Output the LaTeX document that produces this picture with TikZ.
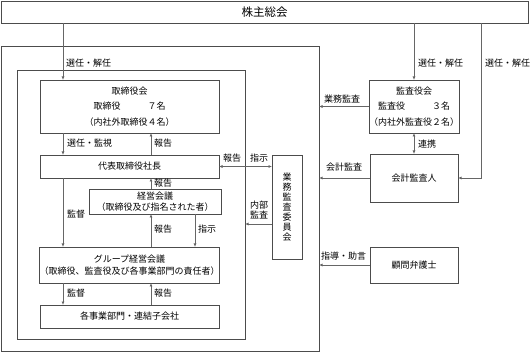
\documentclass[tikz,border=0pt]{standalone}
\usepackage{fontspec}
\setmainfont{Noto Sans CJK JP}
\usetikzlibrary{arrows.meta,positioning}

\begin{document}
\begin{tikzpicture}[x=1pt, y=-1pt, font=\fontsize{9}{11}\selectfont,
      box/.style={draw=black!70, line width=0.8pt, inner sep=0pt, outer sep=0pt, align=center},
      wire/.style={draw=black!60, line width=0.8pt},
      arr/.style={wire, -{Latex[length=3.5pt, width=3pt]}},
      both/.style={wire, {Latex[length=3.5pt, width=3pt]}-{Latex[length=3.5pt, width=3pt]}},
      lbl/.style={anchor=west, inner sep=0pt}]
    \useasboundingbox (0,0) rectangle (532,352);
    % guides for the vertical lines
    \coordinate (xl) at (63,0);
    \coordinate (xm) at (151,0);
    \coordinate (xr) at (195,0);
    \coordinate (xk) at (481,0);
    % frames
    \node[box, minimum width=527, minimum height=22,
      font=\fontsize{11.5}{13}\selectfont] (soukai) at (264.5,12) {株主総会};
    \node[box, minimum width=318, minimum height=305] (outer) at (160,198.5) {};
    \node[box, minimum width=228, minimum height=269] (inner) at (131,204.5) {};
    % left column
    \node[box, minimum width=179, minimum height=53,
      font=\fontsize{9}{15.5}\selectfont] (torishimari) at (129.5,106.5)
      {取締役会\\取締役　　　７名\\（内社外取締役４名）};
    \node[box, minimum width=179, minimum height=23] (shacho) at (129.5,166.5) {代表取締役社長};
    \node[box, minimum width=132, minimum height=25,
      font=\fontsize{9}{11.5}\selectfont] (keiei) at (155,201.5)
      {経営会議\\（取締役及び指名された者）};
    \node[box, minimum width=179, minimum height=36,
      font=\fontsize{9}{12}\selectfont] (group) at (129.5,265)
      {グループ経営会議\\（取締役、監査役及び各事業部門の責任者）};
    \node[box, minimum width=179, minimum height=23] (jigyo) at (129.5,316.5) {各事業部門・連結子会社};
    \node[box, minimum width=30, minimum height=104,
      font=\fontsize{9}{10}\selectfont] (gyomu) at (287,207)
      {業\\務\\監\\査\\委\\員\\会};
    % right column
    \node[box, minimum width=88, minimum height=53,
      font=\fontsize{9}{15.5}\selectfont] (kansayaku) at (414,106.5)
      {監査役会\\監査役　　　３名\\（内社外監査役２名）};
    \node[box, minimum width=88, minimum height=48] (kaikei) at (414,178) {会計監査人};
    \node[box, minimum width=88, minimum height=36] (komon) at (414,265) {顧問弁護士};

    % connectors, left column
    \draw[arr] (soukai.south -| xl) -- (torishimari.north -| xl);
    \draw[arr] (torishimari.south -| xl) -- (shacho.north -| xl);
    \draw[arr] (shacho.north -| xm) -- (torishimari.south -| xm);
    \draw[arr] (keiei.north -| xm) -- (shacho.south -| xm);
    \draw[arr] (shacho.south -| xl) -- (group.north -| xl);
    \draw[arr] (group.north -| xm) -- (keiei.south -| xm);
    \draw[arr] (keiei.south -| xr) -- (group.north -| xr);
    \draw[arr] (group.south -| xl) -- (jigyo.north -| xl);
    \draw[arr] (jigyo.north -| xm) -- (group.south -| xm);
    \draw[both] (shacho.east) -- (shacho.east -| gyomu.west);
    \draw[arr] (gyomu.west |- 0,224) -- (inner.east |- 0,224);
    % connectors, right column
    \draw[arr] (soukai.south -| kansayaku.north) -- (kansayaku.north);
    \draw[arr] (soukai.south -| xk) |- (kaikei.east);
    \draw[both] (kansayaku.south) -- (kaikei.north);
    \draw[arr] (kansayaku.west) -- (kansayaku.west -| outer.east);
    \draw[arr] (kaikei.west) -- (kaikei.west -| outer.east);
    \draw[arr] (komon.west) -- (komon.west -| outer.east);

    % labels
    \node[lbl] (l-sennin) at (66,63) {選任・解任};
    \node[lbl] (l-kanshi) at (67,143) {選任・監視};
    \node[lbl] (l-hokoku1) at (154,143) {報告};
    \node[lbl] (l-hokoku2) at (154,183) {報告};
    \node[lbl] (l-kantoku1) at (67,214) {監督};
    \node[lbl] (l-hokoku3) at (154,229) {報告};
    \node[lbl] (l-shiji1) at (198,229) {指示};
    \node[lbl] (l-kantoku2) at (67,293) {監督};
    \node[lbl] (l-hokoku4) at (154,293) {報告};
    \node[lbl] (l-hokoku5) at (223,158) {報告};
    \node[lbl] (l-shiji2) at (250,158) {指示};
    \node[align=center, inner sep=0pt, font=\fontsize{9}{10.5}\selectfont]
      (l-naibu) at (259,210) {内部\\監査};
    \node[lbl] (l-sennin2) at (418,63) {選任・解任};
    \node[lbl] (l-sennin3) at (485,63) {選任・解任};
    \node[lbl] (l-gyomu) at (324,99) {業務監査};
    \node[lbl] (l-renkei) at (418,144) {連携};
    \node[lbl] (l-kaikei) at (326,167) {会計監査};
    \node[lbl] (l-shido) at (321,256) {指導・助言};
  \end{tikzpicture}
\end{document}
